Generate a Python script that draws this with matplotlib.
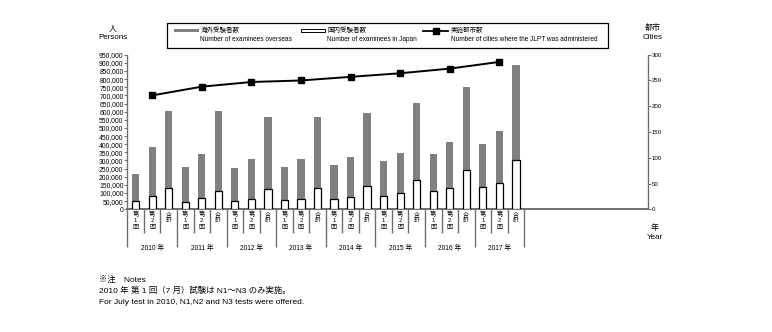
import matplotlib
matplotlib.use("Agg")
import matplotlib.pyplot as plt
from matplotlib.patches import Rectangle
from matplotlib.lines import Line2D

plt.rcParams['font.family'] = ['Liberation Sans', 'Noto Sans CJK JP']

# --- data -------------------------------------------------------------
years = ["2010 年", "2011 年", "2012 年", "2013 年",
         "2014 年", "2015 年", "2016 年", "2017 年"]
session_labels = [["第", "1", "回"], ["第", "2", "回"], ["合", "計"]]

# examinees overseas / in Japan, per session (1st, 2nd, total) for each year
overseas = [165000, 304000, 474000,
            213000, 273000, 489000,
            200000, 245000, 445000,
            202000, 243000, 439000,
            210000, 243000, 450000,
            215000, 247000, 472000,
            230000, 284000, 509000,
            263000, 320000, 584000]
japan = [52000, 79000, 130000,
         47000, 67000, 115000,
         54000, 64000, 122000,
         58000, 66000, 128000,
         62000, 78000, 142000,
         82000, 99000, 181000,
         110000, 130000, 243000,
         138000, 163000, 303000]
# number of cities where the JLPT was administered
cities = [221, 238, 247, 250, 257, 264, 273, 286]

# --- figure geometry (pixels) -------------------------------------------
W, H = 772, 332
x0_px, x1_px = 127.4, 648.0
y0_px, y1_px = 209.3, 54.7


def fx(px):
    return px / W


def fy(py):
    return 1 - py / H


def ay(py):
    # pixel row -> axes fraction
    return (y0_px - py) / (y0_px - y1_px)


GRAY = "#808080"
AXC = "#6e6e6e"

fig = plt.figure(figsize=(W / 100, H / 100), dpi=100)
ax = fig.add_axes([fx(x0_px), fy(y0_px), fx(x1_px) - fx(x0_px),
                   fy(y1_px) - fy(y0_px)])

n = len(japan)
xs = list(range(n))
bw = 0.44
ax.bar(xs, overseas, bottom=japan, width=bw, color=GRAY, linewidth=0, zorder=2)
ax.bar(xs, japan, width=bw, color="white", edgecolor="black",
       linewidth=0.9, zorder=3)

ax.set_xlim(-0.5, 30.99)
ax.set_ylim(0, 950000)
ax.set_yticks(range(0, 950001, 50000))
ax.set_yticklabels([f"{v:,}" for v in range(0, 950001, 50000)])
ax.tick_params(axis="y", direction="out", length=2, width=0.7, color=AXC,
               labelsize=4.9, pad=0.8)
ax.set_xticks([])
for s in ["top", "right"]:
    ax.spines[s].set_visible(False)
ax.spines["left"].set_color(AXC)
ax.spines["left"].set_linewidth(1.0)
ax.spines["bottom"].set_color(AXC)
ax.spines["bottom"].set_linewidth(1.4)

# right axis: cities
ax2 = ax.twinx()
ax2.set_ylim(0, 300)
ax2.set_yticks(range(0, 301, 50))
ax2.tick_params(axis="y", direction="out", length=2, width=0.7, color=AXC,
                labelsize=4.4, pad=0.6)
for s in ["top", "left", "bottom"]:
    ax2.spines[s].set_visible(False)
ax2.spines["right"].set_color(AXC)
ax2.spines["right"].set_linewidth(1.0)
city_x = [3 * k + 1 for k in range(len(cities))]
ax2.plot(city_x, cities, color="black", linewidth=1.4, marker="s",
         markersize=4.3, zorder=4)

# category cells below the axis
tr = ax.get_xaxis_transform()
for k in range(n + 1):
    xb = -0.5 + k
    bottom = ay(247) if k % 3 == 0 else ay(233)
    ax.plot([xb, xb], [0, bottom], transform=tr, color=AXC, linewidth=1.0,
            clip_on=False, solid_capstyle="butt")
for i in range(n):
    chars = session_labels[i % 3]
    for j, ch in enumerate(chars):
        ax.text(i, ay(214.2 + 6.6 * j), ch, transform=tr, ha="center",
                va="center", fontsize=4.4, clip_on=False)
for k, yl in enumerate(years):
    ax.text(3 * k + 1, ay(248.5), yl, transform=tr, ha="center", va="center",
            fontsize=4.8, clip_on=False)

# axis titles
fig.text(fx(113), fy(29), "人", ha="center", va="center", fontsize=5.8)
fig.text(fx(113), fy(37.5), "Persons", ha="center", va="center", fontsize=5.8)
fig.text(fx(653), fy(27.5), "都市", ha="center", va="center", fontsize=5.8)
fig.text(fx(653), fy(37.5), "Cities", ha="center", va="center", fontsize=5.8)
fig.text(fx(655), fy(228), "年", ha="center", va="center", fontsize=5.8)
fig.text(fx(655), fy(237.5), "Year", ha="center", va="center", fontsize=5.8)

# legend box
fig.add_artist(Rectangle((fx(167), fy(47.7)), fx(608) - fx(167),
                         fy(22.7) - fy(47.7), transform=fig.transFigure,
                         fill=False, edgecolor="black", linewidth=0.9))
fig.add_artist(Rectangle((fx(174), fy(32.3)), fx(199) - fx(174),
                         fy(29) - fy(32.3), transform=fig.transFigure,
                         facecolor=GRAY, edgecolor="none"))
fig.add_artist(Rectangle((fx(301), fy(32.3)), fx(325) - fx(301),
                         fy(29) - fy(32.3), transform=fig.transFigure,
                         facecolor="white", edgecolor="black", linewidth=0.7))
fig.add_artist(Line2D([fx(423), fx(448)], [fy(31), fy(31)],
                      transform=fig.transFigure, color="black", linewidth=1.3))
fig.add_artist(Line2D([fx(436)], [fy(31)], transform=fig.transFigure,
                      color="black", marker="s", markersize=4.0,
                      linestyle="none"))
legend_items = [(200.5, "海外受験者数", "Number of examinees overseas"),
                (327, "国内受験者数", "Number of examinees in Japan"),
                (451, "実施都市数",
                 "Number of cities where the JLPT was administered")]
for xp, jp, en in legend_items:
    fig.text(fx(xp), fy(30.8), jp, ha="left", va="center", fontsize=4.7)
    fig.text(fx(xp), fy(39.2), en, ha="left", va="center", fontsize=4.7)

# notes
fig.text(fx(99.3), fy(279.5), "※注　Notes", ha="left", va="center",
         fontsize=6.0)
fig.text(fx(99.3), fy(291), "2010 年 第 1 回（7 月）試験は N1〜N3 のみ実施。",
         ha="left", va="center", fontsize=6.0)
fig.text(fx(99.3), fy(302.3),
         "For July test in 2010, N1,N2 and N3 tests were offered.",
         ha="left", va="center", fontsize=6.0)

fig.savefig("out.png", dpi=100)
